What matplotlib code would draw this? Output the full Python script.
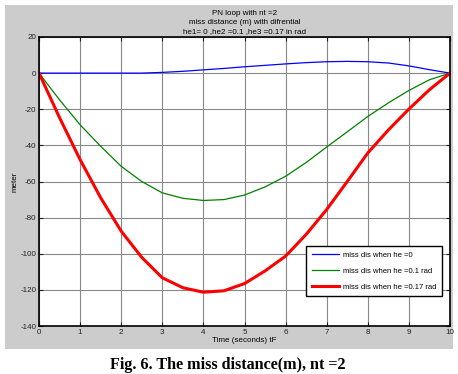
import matplotlib
matplotlib.use('Agg')
from matplotlib import pyplot as plt
from matplotlib.patches import Rectangle

t = [0, 0.5, 1, 1.5, 2, 2.5, 3, 3.5, 4, 4.5, 5, 5.5, 6, 6.5, 7, 7.5, 8, 8.5, 9, 9.5, 10]
miss_he0 = [0, 0, 0, 0, 0, 0, 0.4, 1.0, 1.8, 2.6, 3.5, 4.3, 5.1, 5.8, 6.3, 6.5, 6.3, 5.6, 4.0, 1.9, 0]
miss_he01 = [0, -14.8, -28.6, -40.5, -51.6, -60, -66.3, -69.3, -70.5, -70, -67.5, -63, -57.1,
             -49.5, -40.9, -32.5, -24, -16.5, -9.6, -3.7, 0]
miss_he017 = [0, -24.7, -47.9, -69, -87.5, -102, -113.3, -118.8, -121.3, -120.5, -116.5, -109.5,
              -101.3, -89.3, -75.5, -60, -44.2, -31.5, -19.9, -9.2, 0]

labels = ['miss dis when he =0', 'miss dis when he =0.1 rad', 'miss dis when he =0.17 rad']
title_lines = ['PN loop with nt =2', 'miss distance (m) with difrential', 'he1= 0 ,he2 =0.1 ,he3 =0.17 in rad']

plt.rcParams['font.family'] = ['Liberation Sans', 'DejaVu Sans']
plt.rcParams['axes.unicode_minus'] = False

fig = plt.figure(figsize=(4.58, 3.74), dpi=100)
fig.patch.set_facecolor('white')
# grey matlab figure background
fig.patches.append(Rectangle((0.011, 0.067), 0.978, 0.92, transform=fig.transFigure,
                             facecolor='#cccccc', edgecolor='none', zorder=-10))

ax = fig.add_axes([0.0852, 0.1283, 0.8973, 0.7728])
ax.set_zorder(1)
ax.set_facecolor('white')
ax.plot(t, miss_he0, color='#0000ff', lw=0.9, label=labels[0])
ax.plot(t, miss_he01, color='#008000', lw=0.9, label=labels[1])
ax.plot(t, miss_he017, color='#ff0000', lw=2.2, label=labels[2])

ax.set_xlim(0, 10)
ax.set_ylim(-140, 20)
ax.set_xticks(range(0, 11))
ax.set_yticks(range(-140, 21, 20))
ax.grid(True, color='#888888', lw=0.8)
ax.tick_params(direction='in', top=True, right=True, labelsize=5.8, colors='#222222',
               length=3, width=0.8, pad=2)
for s in ax.spines.values():
    s.set_linewidth(1.2)
ax.set_xlabel('Time (seconds) tF', fontsize=5.8, labelpad=1)
ax.set_ylabel('meter', fontsize=5.8)
ax.yaxis.set_label_coords(-0.05, 0.5)
ax.set_title('\n'.join(title_lines), fontsize=5.8, linespacing=1.35, pad=3)

leg = ax.legend(loc='lower right', fontsize=5.5, fancybox=False, framealpha=1,
                edgecolor='black', handlelength=3.6, handletextpad=0.5, borderpad=0.7,
                labelspacing=1.1, borderaxespad=0, bbox_to_anchor=(0.98, 0.104))
leg.get_frame().set_linewidth(1.0)

fig.text(0.498, 0.025, 'Fig. 6. The miss distance(m), nt =2', ha='center', va='center',
         fontsize=11.6, fontweight='bold', family='Liberation Serif')

fig.savefig('out.png', dpi=100)
